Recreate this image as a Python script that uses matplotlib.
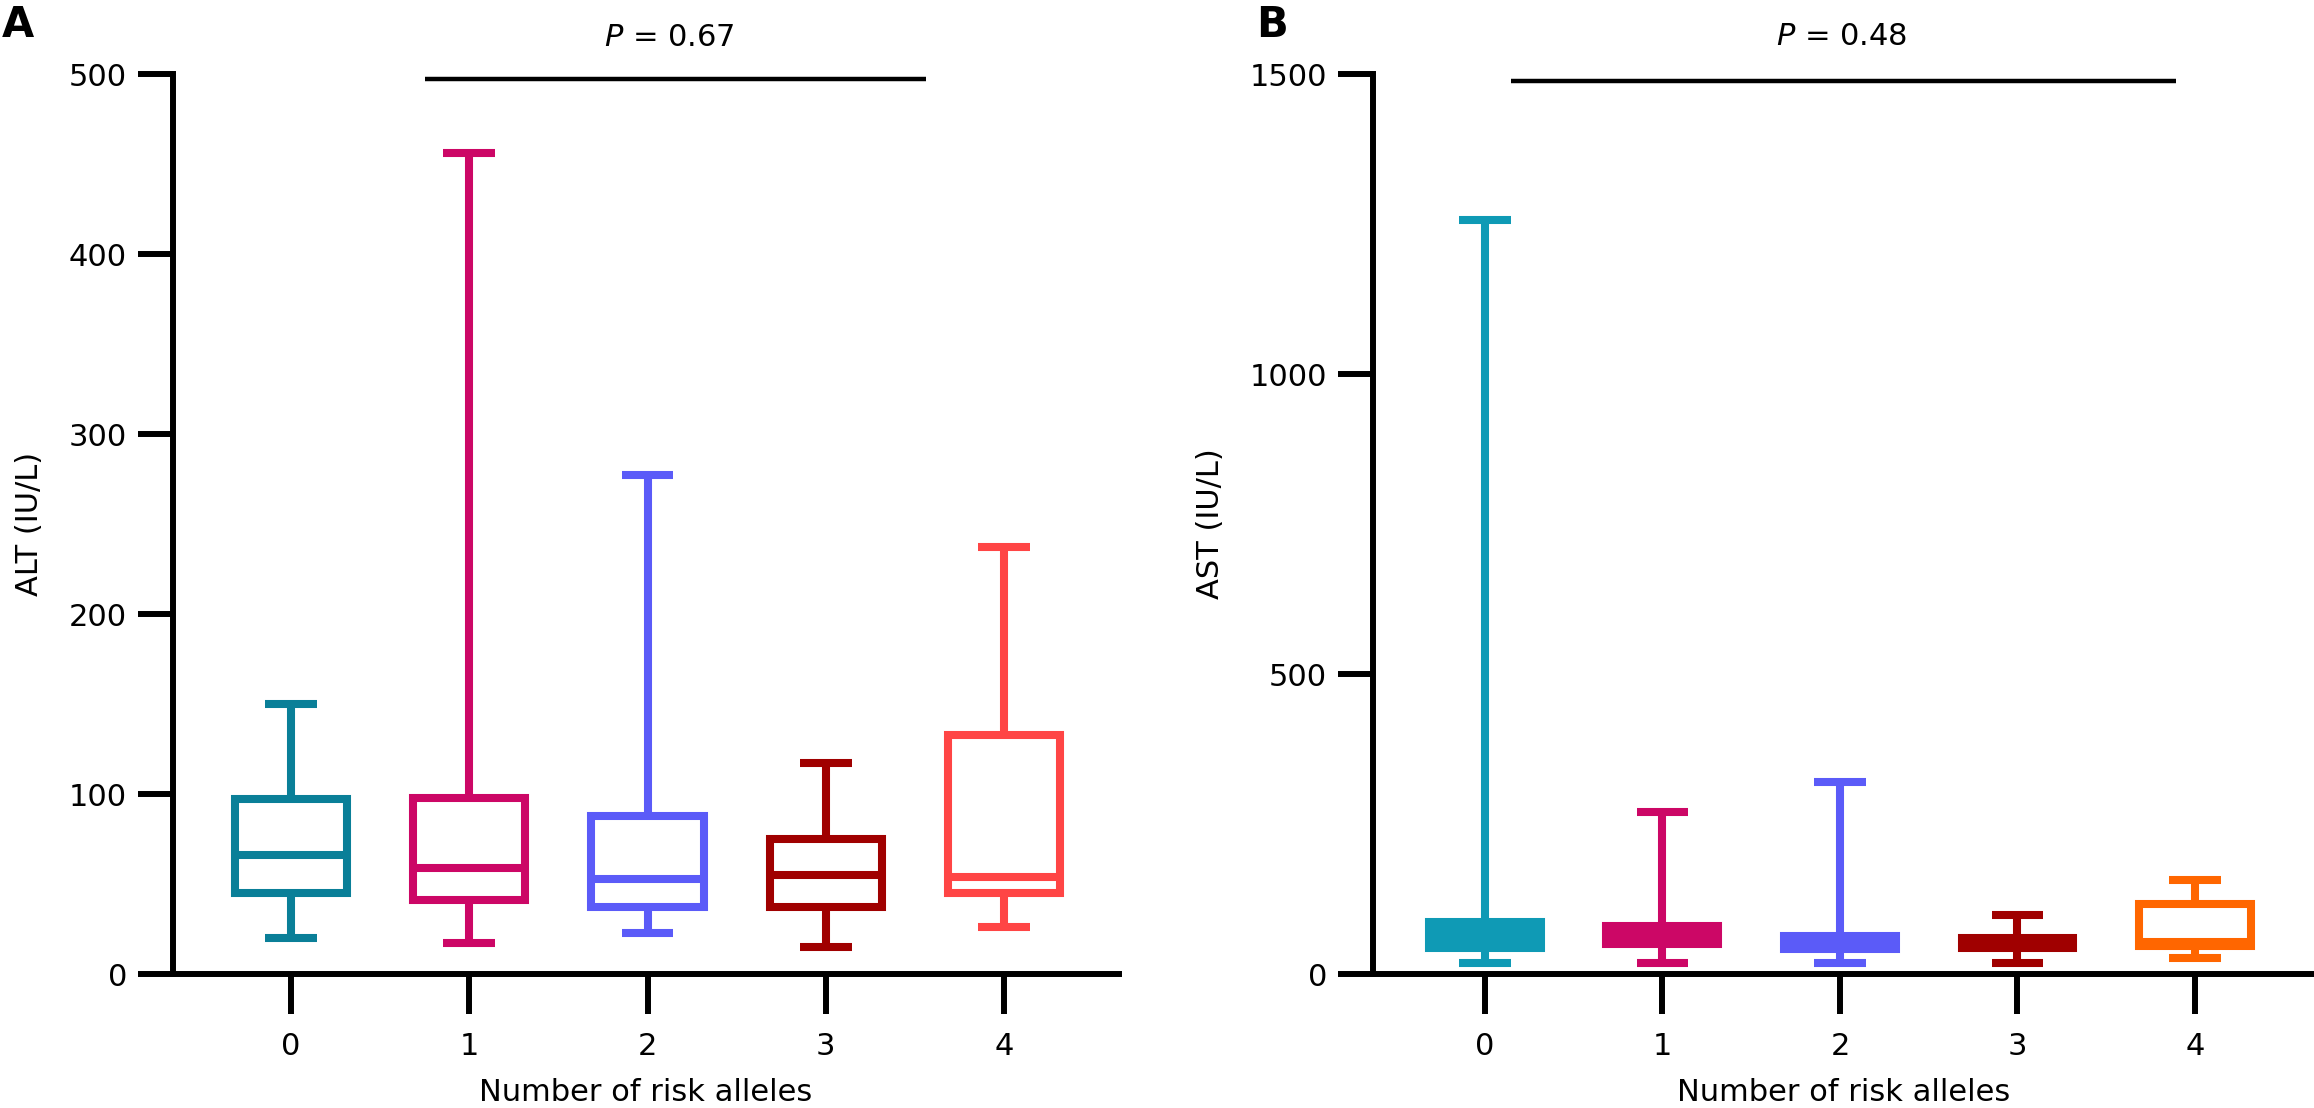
import matplotlib
matplotlib.use("Agg")
import matplotlib.pyplot as plt

plt.rcParams['font.family'] = ['DejaVu Sans']

categories = ["0", "1", "2", "3", "4"]

# Panel A: ALT (IU/L)
alt_whislo = [20, 17, 23, 15, 26]
alt_q1     = [45, 41, 37, 37, 45]
alt_med    = [66, 59, 53, 55, 54]
alt_q3     = [97, 98, 88, 75, 133]
alt_whishi = [150, 456, 277, 117, 237]
alt_colors = ["#0A7F98", "#CC0766", "#5B5BF8", "#A00000", "#FF4545"]
alt_p_text = "0.67"

# Panel B: AST (IU/L)
ast_whislo = [18, 19, 19, 19, 27]
ast_q1     = [44, 50, 42, 43, 47]
ast_med    = [60, 62, 50, 52, 53]
ast_q3     = [87, 80, 63, 60, 117]
ast_whishi = [1257, 270, 320, 99, 157]
ast_colors = ["#0F9AB5", "#CC0766", "#5B5BF8", "#A00000", "#FF6600"]
ast_filled = [True, True, True, True, False]
ast_p_text = "0.48"

W, H = 2314, 1108
fig = plt.figure(figsize=(W / 100, H / 100), dpi=100)

LW = 5.8      # box line width (pt)
SPW = 4.3     # spine width (pt)
FS = 22


def draw(ax, lo, q1, med, q3, hi, colors, filled, ylim, yticks, ylabel,
         p_text, p_x, p_y, line_x0, line_x1, line_y):
    stats = []
    for i in range(len(categories)):
        stats.append(dict(whislo=lo[i], q1=q1[i], med=med[i], q3=q3[i],
                          whishi=hi[i], fliers=[]))
    pos = list(range(len(categories)))
    bp = ax.bxp(stats, positions=pos, widths=0.63, capwidths=0.29,
                patch_artist=True, showfliers=False,
                boxprops=dict(linewidth=LW, joinstyle='miter'),
                whiskerprops=dict(linewidth=LW, solid_capstyle='butt'),
                capprops=dict(linewidth=LW, solid_capstyle='butt'),
                medianprops=dict(linewidth=LW, solid_capstyle='butt'))
    for i, c in enumerate(colors):
        bp['boxes'][i].set_edgecolor(c)
        bp['boxes'][i].set_facecolor(c if filled[i] else 'white')
        bp['medians'][i].set_color(c)
        for k in (2 * i, 2 * i + 1):
            bp['whiskers'][k].set_color(c)
            bp['caps'][k].set_color(c)
    ax.set_ylim(*ylim)
    ax.set_yticks(yticks)
    ax.set_xticks(pos)
    ax.set_xticklabels(categories)
    for s in ('top', 'right'):
        ax.spines[s].set_visible(False)
    for s in ('left', 'bottom'):
        ax.spines[s].set_linewidth(SPW)
    ax.tick_params(axis='y', length=25, width=SPW, labelsize=FS, pad=8)
    ax.tick_params(axis='x', length=29, width=SPW, labelsize=FS, pad=13)
    ax.set_xlabel("Number of risk alleles", fontsize=FS, labelpad=12)
    ax.set_ylabel(ylabel, fontsize=FS, labelpad=18)
    ax.plot([line_x0, line_x1], [line_y, line_y], color='black', lw=3.2,
            clip_on=False, solid_capstyle='butt')
    ax.text(p_x, p_y, r"$\mathit{P}$ = " + p_text, ha='center', va='center',
            fontsize=FS, clip_on=False)


axA = fig.add_axes([173 / W, (H - 974) / H, 946 / W, 900 / H])
axA.set_xlim(-0.662, 4.645)
draw(axA, alt_whislo, alt_q1, alt_med, alt_q3, alt_whishi, alt_colors,
     [False] * 5, (0, 500), [0, 100, 200, 300, 400, 500], "ALT (IU/L)",
     alt_p_text, 2.12, 520, 0.75, 3.56, 497)

axB = fig.add_axes([1373 / W, (H - 974) / H, (W - 1373) / W, 900 / H])
axB.set_xlim(-0.63, 4.67)
draw(axB, ast_whislo, ast_q1, ast_med, ast_q3, ast_whishi, ast_colors,
     ast_filled, (0, 1500), [0, 500, 1000, 1500], "AST (IU/L)",
     ast_p_text, 2.01, 1562, 0.15, 3.89, 1488)

fig.text(2 / W, 1 - 4 / H, "A", fontsize=30, fontweight='bold', va='top', ha='left')
fig.text(1256 / W, 1 - 4 / H, "B", fontsize=30, fontweight='bold', va='top', ha='left')

fig.savefig("out.png", dpi=100)
